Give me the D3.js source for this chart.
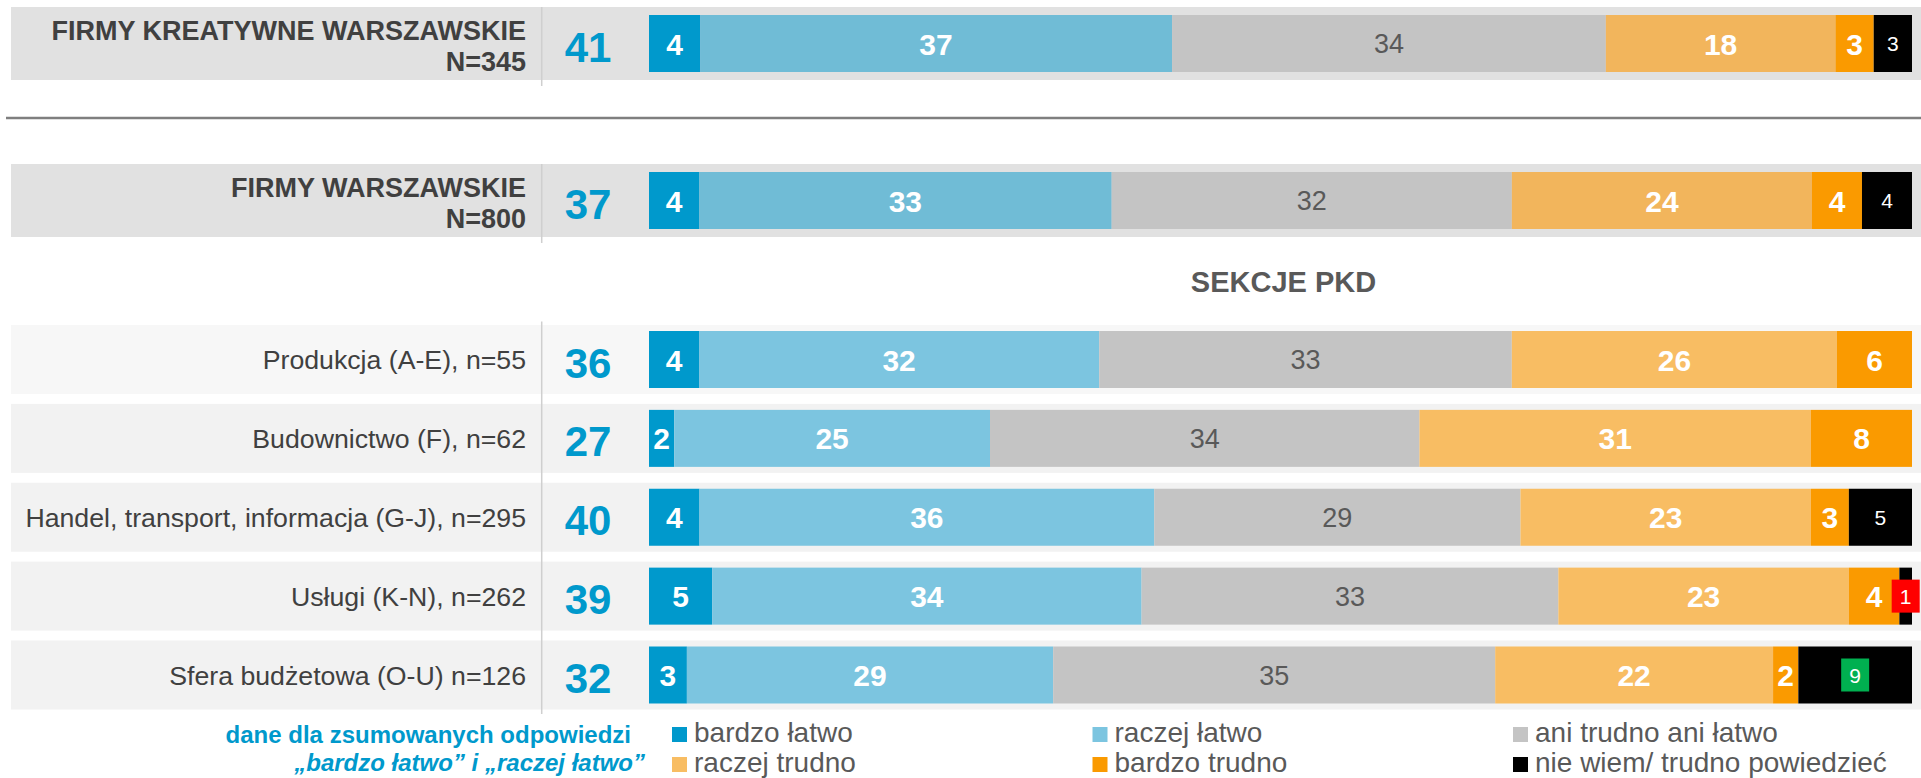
<!DOCTYPE html>
<html>
<head>
<meta charset="utf-8">
<script src="https://cdn.jsdelivr.net/npm/d3@7"></script>
<style>
  body { margin: 0; background: #fff; }
  text { font-family: "Liberation Sans", Arial, sans-serif; }
</style>
</head>
<body>
<svg id="chart" width="1921" height="778"></svg>
<script>
// data
const rowLabels = [
  ["FIRMY KREATYWNE WARSZAWSKIE", "N=345"],
  ["FIRMY WARSZAWSKIE", "N=800"],
  ["Produkcja (A-E), n=55"],
  ["Budownictwo (F), n=62"],
  ["Handel, transport, informacja (G-J), n=295"],
  ["Usługi (K-N), n=262"],
  ["Sfera budżetowa (O-U) n=126"]
];
const easyTotals   = [41, 37, 36, 27, 40, 39, 32];
const seriesNames  = ["bardzo łatwo", "raczej łatwo", "ani trudno ani łatwo", "raczej trudno", "bardzo trudno", "nie wiem/ trudno powiedzieć"];
const bardzoLatwo  = [4, 4, 4, 2, 4, 5, 3];
const raczejLatwo  = [37, 33, 32, 25, 36, 34, 29];
const aniAni       = [34, 32, 33, 34, 29, 33, 35];
const raczejTrudno = [18, 24, 26, 31, 23, 23, 22];
const bardzoTrudno = [3, 4, 6, 8, 3, 4, 2];
const nieWiem      = [3, 4, 0, 0, 5, 1, 9];
const sectionTitle = "SEKCJE PKD";
const noteLines = ["dane dla zsumowanych odpowiedzi", "\u201ebardzo łatwo\u201d i \u201eraczej łatwo\u201d"];

// styles
const topColors  = ["#0099cc", "#70bcd6", "#c4c4c4", "#f2b55c", "#fa9a00", "#000000"];
const secColors  = ["#0099cc", "#7cc5e0", "#c4c4c4", "#f8bd63", "#fa9a00", "#000000"];
const markBoxes  = {5: "#ff0000", 6: "#00b050"};   // highlighted "nie wiem" values

const svg = d3.select("#chart");

const table = rowLabels.map(function(l, i){
  return {idx: i, "0": bardzoLatwo[i], "1": raczejLatwo[i], "2": aniAni[i], "3": raczejTrudno[i], "4": bardzoTrudno[i], "5": nieWiem[i]};
});
const stack = d3.stack().keys(["0","1","2","3","4","5"]).offset(d3.stackOffsetExpand);
const layers = stack(table);

const x = d3.scaleLinear().domain([0, 1]).range([649, 1912]);
const yTop = d3.scalePoint().domain([0, 1]).range([43.5, 200.5]);
const ySec = d3.scalePoint().domain([2, 3, 4, 5, 6]).range([359.5, 675]);
function yc(i){ return i < 2 ? yTop(i) : ySec(i); }
const barH = 57;

// row backgrounds
svg.append("g").selectAll("rect")
  .data(table)
  .enter().append("rect")
  .attr("x", 11)
  .attr("width", 1921 - 11)
  .attr("y", function(d){ return yc(d.idx) - (d.idx < 2 ? 36.5 : 34.5); })
  .attr("height", function(d){ return d.idx < 2 ? 73 : 69; })
  .attr("fill", function(d){ return d.idx < 2 ? "#e1e1e1" : (d.idx == 2 ? "#f7f7f7" : "#f2f2f2"); });

// vertical separators
const sep = svg.append("g").attr("stroke", "#cfcfcf").attr("stroke-width", 1.5);
sep.append("line").attr("x1", 541.7).attr("x2", 541.7).attr("y1", yTop(0) - 36.5).attr("y2", yTop(0) + 42.5);
sep.append("line").attr("x1", 541.7).attr("x2", 541.7).attr("y1", yTop(1) - 36.5).attr("y2", yTop(1) + 42.5);
sep.append("line").attr("x1", 541.7).attr("x2", 541.7).attr("y1", ySec(2) - 38).attr("y2", ySec(6) + 39);

// horizontal rule
svg.append("line")
  .attr("x1", 6).attr("x2", 1921).attr("y1", 118).attr("y2", 118)
  .attr("stroke", "#7f7f7f").attr("stroke-width", 2.6);

// section title
svg.append("text")
  .attr("x", (x.range()[0] + x.range()[1]) / 2 + 3)
  .attr("y", 292)
  .attr("text-anchor", "middle")
  .attr("font-size", 29).attr("font-weight", "bold").attr("fill", "#595959")
  .text(sectionTitle);

// row labels
const lab = svg.append("g");
rowLabels.forEach(function(lines, i){
  if (lines.length == 2) {
    lines.forEach(function(t, k){
      lab.append("text")
        .attr("x", 526).attr("y", yc(i) - 4 + k * 31)
        .attr("text-anchor", "end")
        .attr("font-size", 27).attr("font-weight", "bold").attr("fill", "#404040")
        .text(t);
    });
  } else {
    lab.append("text")
      .attr("x", 526).attr("y", yc(i) + 9.5)
      .attr("text-anchor", "end")
      .attr("font-size", 26.7).attr("fill", "#404040")
      .text(lines[0]);
  }
});

// summed values
svg.append("g").selectAll("text")
  .data(easyTotals)
  .enter().append("text")
  .attr("x", 588)
  .attr("y", function(d, i){ return yc(i) + 18; })
  .attr("text-anchor", "middle")
  .attr("font-size", 42).attr("font-weight", "bold").attr("fill", "#0099cc")
  .text(function(d){ return d; });

// stacked bars
const segs = svg.append("g");
layers.forEach(function(layer, s){
  const g = segs.append("g");
  const cells = layer.filter(function(d){ return d.data[s] > 0; });
  g.selectAll("rect")
    .data(cells)
    .enter().append("rect")
    .attr("x", function(d){ return x(d[0]); })
    .attr("width", function(d){ return x(d[1]) - x(d[0]); })
    .attr("y", function(d){ return yc(d.data.idx) - barH / 2; })
    .attr("height", barH)
    .attr("fill", function(d){ return d.data.idx < 2 ? topColors[s] : secColors[s]; });

  if (s == 5) {
    g.selectAll("rect.box")
      .data(cells.filter(function(d){ return markBoxes[d.data.idx]; }))
      .enter().append("rect")
      .attr("class", "box")
      .attr("x", function(d){ return (x(d[0]) + x(d[1])) / 2 - 14; })
      .attr("width", 28)
      .attr("y", function(d){ return yc(d.data.idx) - 16.5; })
      .attr("height", 33)
      .attr("fill", function(d){ return markBoxes[d.data.idx]; });
  }

  g.selectAll("text")
    .data(cells)
    .enter().append("text")
    .attr("x", function(d){ return (x(d[0]) + x(d[1])) / 2; })
    .attr("y", function(d){ return yc(d.data.idx) + (s == 5 ? 7.5 : (s == 2 ? 9.5 : 11)); })
    .attr("text-anchor", "middle")
    .attr("font-size", s == 5 ? 21 : (s == 2 ? 27 : 30))
    .attr("font-weight", (s == 2 || s == 5) ? "normal" : "bold")
    .attr("fill", s == 2 ? "#595959" : "#ffffff")
    .text(function(d){ return d.data[s]; });
});

// note
const note = svg.append("g");
noteLines.forEach(function(t, k){
  note.append("text")
    .attr("x", k == 0 ? 631 : 645).attr("y", 743 + k * 28)
    .attr("text-anchor", "end")
    .attr("font-size", 24).attr("font-weight", "bold")
    .attr("font-style", k == 1 ? "italic" : "normal")
    .attr("fill", "#0099cc")
    .text(t);
});

// legend
const legX = d3.scalePoint().domain([0, 1, 2]).range([672, 1513]);
const leg = svg.append("g").selectAll("g")
  .data(seriesNames)
  .enter().append("g")
  .attr("transform", function(d, i){ return "translate(" + legX(i % 3) + "," + (727 + Math.floor(i / 3) * 30) + ")"; });
leg.append("rect").attr("width", 15).attr("height", 15)
  .attr("fill", function(d, i){ return secColors[i]; });
leg.append("text")
  .attr("x", 22).attr("y", 15)
  .attr("font-size", 28).attr("fill", "#595959")
  .text(function(d){ return d; });
</script>
</body>
</html>
